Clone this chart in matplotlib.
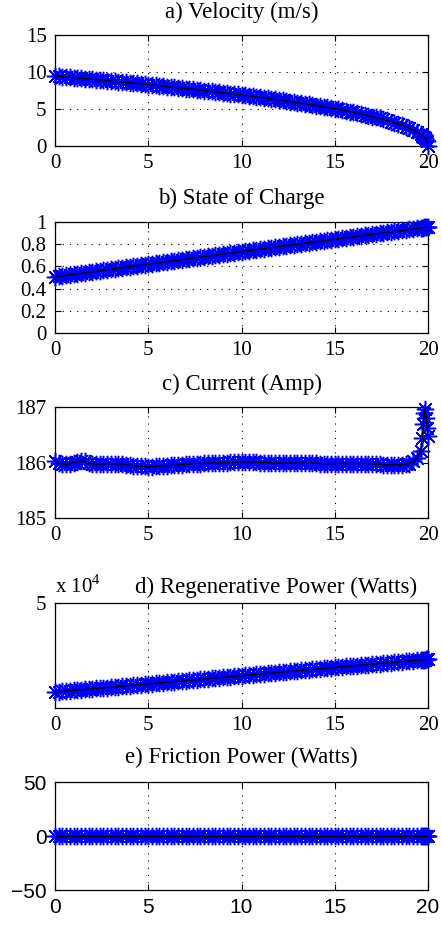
import matplotlib
matplotlib.use('Agg')
import matplotlib.pyplot as plt

# time axis (s), solver gets finer steps at the very end
time_s = [0.0, 0.2, 0.4, 0.6, 0.8, 1.0, 1.2, 1.4, 1.6, 1.8,
          2.0, 2.2, 2.4, 2.6, 2.8, 3.0, 3.2, 3.4, 3.6, 3.8,
          4.0, 4.2, 4.4, 4.6, 4.8, 5.0, 5.2, 5.4, 5.6, 5.8,
          6.0, 6.2, 6.4, 6.6, 6.8, 7.0, 7.2, 7.4, 7.6, 7.8,
          8.0, 8.2, 8.4, 8.6, 8.8, 9.0, 9.2, 9.4, 9.6, 9.8,
          10.0, 10.2, 10.4, 10.6, 10.8, 11.0, 11.2, 11.4, 11.6, 11.8,
          12.0, 12.2, 12.4, 12.6, 12.8, 13.0, 13.2, 13.4, 13.6, 13.8,
          14.0, 14.2, 14.4, 14.6, 14.8, 15.0, 15.2, 15.4, 15.6, 15.8,
          16.0, 16.2, 16.4, 16.6, 16.8, 17.0, 17.2, 17.4, 17.6, 17.8,
          18.0, 18.2, 18.4, 18.6, 18.8, 19.0, 19.2, 19.4, 19.6,
          19.7, 19.75, 19.8, 19.85, 19.9, 19.95, 20.0]

velocity = [9.46, 9.42, 9.37, 9.33, 9.29, 9.24, 9.20, 9.15, 9.11, 9.06,
            9.02, 8.97, 8.92, 8.88, 8.83, 8.78, 8.74, 8.69, 8.64, 8.59,
            8.55, 8.50, 8.45, 8.40, 8.35, 8.30, 8.25, 8.20, 8.14, 8.09,
            8.04, 7.99, 7.93, 7.88, 7.83, 7.77, 7.72, 7.66, 7.61, 7.55,
            7.49, 7.44, 7.38, 7.32, 7.26, 7.20, 7.14, 7.08, 7.02, 6.96,
            6.90, 6.83, 6.77, 6.70, 6.64, 6.57, 6.51, 6.44, 6.37, 6.30,
            6.23, 6.16, 6.09, 6.01, 5.94, 5.86, 5.78, 5.71, 5.63, 5.55,
            5.46, 5.38, 5.29, 5.21, 5.12, 5.03, 4.94, 4.84, 4.74, 4.64,
            4.54, 4.44, 4.33, 4.22, 4.10, 3.98, 3.86, 3.73, 3.60, 3.46,
            3.31, 3.16, 2.99, 2.81, 2.62, 2.41, 2.18, 1.91, 1.59,
            1.39, 1.28, 1.16, 1.02, 0.85, 0.62, 0.0]

soc = [0.505, 0.510, 0.514, 0.519, 0.524, 0.528, 0.533, 0.537, 0.542, 0.547,
       0.551, 0.556, 0.560, 0.565, 0.569, 0.574, 0.579, 0.583, 0.588, 0.592,
       0.597, 0.602, 0.606, 0.611, 0.615, 0.620, 0.624, 0.629, 0.633, 0.638,
       0.643, 0.647, 0.652, 0.656, 0.661, 0.665, 0.670, 0.674, 0.679, 0.683,
       0.688, 0.692, 0.697, 0.701, 0.706, 0.711, 0.715, 0.720, 0.724, 0.729,
       0.733, 0.738, 0.742, 0.747, 0.751, 0.756, 0.760, 0.765, 0.769, 0.773,
       0.778, 0.782, 0.787, 0.791, 0.796, 0.800, 0.805, 0.809, 0.814, 0.818,
       0.823, 0.827, 0.831, 0.836, 0.840, 0.845, 0.849, 0.854, 0.858, 0.862,
       0.867, 0.871, 0.876, 0.880, 0.885, 0.889, 0.893, 0.898, 0.902, 0.907,
       0.911, 0.915, 0.920, 0.924, 0.929, 0.933, 0.937, 0.942, 0.946,
       0.948, 0.949, 0.951, 0.952, 0.953, 0.954, 0.955]

current = [186.03, 185.99, 185.97, 185.97, 185.98, 186.00, 186.01, 186.03, 186.02, 185.99,
           185.97, 185.97, 185.97, 185.97, 185.98, 185.98, 185.98, 185.97, 185.97, 185.96,
           185.95, 185.94, 185.93, 185.93, 185.93, 185.92, 185.92, 185.93, 185.93, 185.94,
           185.94, 185.95, 185.95, 185.96, 185.96, 185.97, 185.97, 185.98, 185.98, 185.98,
           185.99, 185.99, 185.99, 186.00, 186.00, 186.00, 186.00, 186.01, 186.01, 186.01,
           186.01, 186.01, 186.01, 186.01, 186.01, 186.00, 186.00, 186.00, 186.00, 186.00,
           185.99, 185.99, 185.99, 185.99, 185.99, 185.99, 185.99, 185.99, 185.99, 185.99,
           185.99, 185.98, 185.98, 185.98, 185.98, 185.98, 185.98, 185.98, 185.98, 185.98,
           185.98, 185.98, 185.98, 185.98, 185.98, 185.98, 185.97, 185.97, 185.96, 185.96,
           185.96, 185.96, 185.96, 185.96, 185.97, 185.98, 186.02, 186.08, 186.20,
           186.45, 186.70, 186.90, 186.97, 186.80, 186.62, 186.48]

regen_power = [7570, 7726, 7883, 8039, 8196, 8352, 8508, 8665, 8821, 8978,
               9134, 9290, 9447, 9603, 9760, 9916, 10072, 10229, 10385, 10542,
               10698, 10854, 11011, 11167, 11324, 11480, 11636, 11793, 11949, 12106,
               12262, 12418, 12575, 12731, 12888, 13044, 13200, 13357, 13513, 13670,
               13826, 13982, 14139, 14295, 14452, 14608, 14764, 14921, 15077, 15234,
               15390, 15546, 15703, 15859, 16016, 16172, 16328, 16485, 16641, 16798,
               16954, 17110, 17267, 17423, 17580, 17736, 17892, 18049, 18205, 18362,
               18518, 18674, 18831, 18987, 19144, 19300, 19456, 19613, 19769, 19926,
               20082, 20238, 20395, 20551, 20708, 20864, 21020, 21177, 21333, 21490,
               21646, 21802, 21959, 22115, 22272, 22428, 22584, 22741, 22897,
               22975, 23015, 23054, 23093, 23132, 23171, 23210]

friction_power = [0.0] * len(time_s)

x_ticks = [0, 5, 10, 15, 20]
vel_ticks = [0, 5, 10, 15]
soc_ticks = [0, 0.2, 0.4, 0.6, 0.8, 1.0]
soc_labels = ['0', '0.2', '0.4', '0.6', '0.8', '1']
cur_ticks = [185, 186, 187]
regen_ticks = [50000]
regen_labels = ['5']
fric_ticks = [-50, 0, 50]

plt.rcParams['font.family'] = 'serif'
plt.rcParams['font.serif'] = ['Liberation Serif', 'DejaVu Serif']
plt.rcParams['mathtext.fontset'] = 'custom'
plt.rcParams['mathtext.rm'] = 'Liberation Serif'

W, H = 442.0, 926.0
fig = plt.figure(figsize=(4.42, 9.26), dpi=100)


def add_panel(top, bottom):
    return fig.add_axes([55 / W, 1 - bottom / H, 373 / W, (bottom - top) / H])


def draw(ax, y, title, pad, hgrid=True):
    ax.plot(time_s, y, linestyle='none', marker=(8, 2, 0), markersize=12.5,
            markeredgewidth=1.1, color='b', clip_on=False, zorder=3)
    ax.plot(time_s, y, color='k', linewidth=1.0, zorder=4)
    ax.set_xlim(0, 20)
    ax.set_xticks(x_ticks)
    ax.set_title(title, fontsize=16.5, pad=pad)
    ax.tick_params(direction='in', length=4, width=0.8, top=True, right=True,
                   labelsize=15, pad=6)
    for s in ax.spines.values():
        s.set_linewidth(0.9)
    ax.xaxis.grid(True, color='k', linestyle=(0, (1, 5.5)), linewidth=0.8)
    if hgrid:
        ax.yaxis.grid(True, color='k', linestyle=(0, (1, 5.5)), linewidth=0.8)
    ax.set_axisbelow(True)


# a) velocity
ax1 = add_panel(35, 146)
draw(ax1, velocity, 'a) Velocity (m/s)', 12)
ax1.set_ylim(0, 15)
ax1.set_yticks(vel_ticks)

# b) state of charge
ax2 = add_panel(222, 333)
draw(ax2, soc, 'b) State of Charge', 13)
ax2.set_ylim(0, 1)
ax2.set_yticks(soc_ticks)
ax2.set_yticklabels(soc_labels)

# c) current
ax3 = add_panel(407, 518)
draw(ax3, current, 'c) Current (Amp)', 12.5, hgrid=False)
ax3.set_ylim(185, 187)
ax3.set_yticks(cur_ticks)

# d) regenerative power
ax4 = add_panel(603, 708)
draw(ax4, regen_power, 'd) Regenerative Power (Watts)', 7, hgrid=False)
ax4.title.set_x(0.593)
ax4.set_ylim(0, 50000)
ax4.set_yticks(regen_ticks)
ax4.set_yticklabels(regen_labels)
ax4.text(0, 1.095, r'x 10$^{\mathrm{4}}$', transform=ax4.transAxes,
         fontsize=15, ha='left', va='baseline')

# e) friction power (tick labels in sans)
ax5 = add_panel(782, 890)
draw(ax5, friction_power, 'e) Friction Power (Watts)', 13.5, hgrid=False)
ax5.set_ylim(-50, 50)
ax5.set_yticks(fric_ticks)
for lab in ax5.get_xticklabels() + ax5.get_yticklabels():
    lab.set_fontfamily('Liberation Sans')

fig.savefig('out.png', dpi=100)
